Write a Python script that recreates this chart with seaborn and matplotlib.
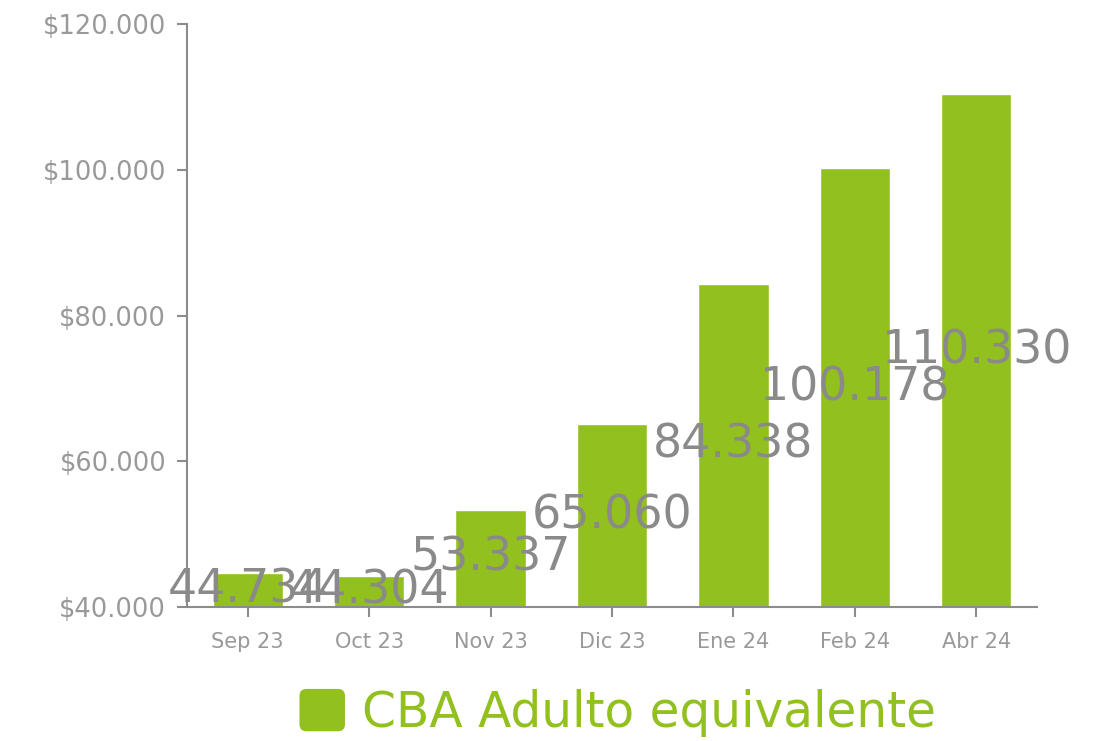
import matplotlib
matplotlib.use("Agg")
import matplotlib.pyplot as plt
import seaborn as sns
import pandas as pd
from matplotlib.patches import FancyBboxPatch, Patch
from matplotlib.legend_handler import HandlerPatch
from matplotlib.ticker import FuncFormatter

months = ["Sep 23", "Oct 23", "Nov 23", "Dic 23", "Ene 24", "Feb 24", "Abr 24"]
values = [44734, 44304, 53337, 65060, 84338, 100178, 110330]
series_name = "CBA Adulto equivalente"
y_ticks = [40000, 60000, 80000, 100000, 120000]

green = "#92C01F"
gray = "#8a8a8a"
axis_gray = "#8c8c8c"

sns.set_theme(style="white")
plt.rcParams["font.family"] = ["DejaVu Sans"]

df = pd.DataFrame({"mes": months, "valor": values})

fig = plt.figure(figsize=(10.97, 7.41), dpi=100)
ax = fig.add_axes([0.1705, 0.1808, 0.7748, 0.7868])

sns.barplot(data=df, x="mes", y="valor", color=green, saturation=1,
            width=0.58, ax=ax, zorder=2)

ymin, ymax = 40000, 120000
ax.set_ylim(ymin, ymax)
ax.set_xlim(-0.5, len(months) - 0.5)
ax.set_yticks(y_ticks)
ax.yaxis.set_major_formatter(FuncFormatter(lambda v, p: "$" + f"{int(v):,}".replace(",", ".")))
ax.set_xlabel("")
ax.set_ylabel("")

for s in ["top", "right"]:
    ax.spines[s].set_visible(False)
for s in ["left", "bottom"]:
    ax.spines[s].set_color(axis_gray)
    ax.spines[s].set_linewidth(1.5)

ax.tick_params(axis="y", which="major", left=True, length=7, width=1.5,
               color=axis_gray, labelsize=18.5, labelcolor="#999999", pad=8)
ax.tick_params(axis="x", which="major", bottom=True, length=7, width=1.5,
               color=axis_gray, labelsize=15, labelcolor="#999999", pad=11)

for i, v in enumerate(values):
    ax.text(i, (v + ymin) / 2, f"{v:,}".replace(",", "."), ha="center", va="center",
            fontsize=33, color=gray, zorder=5, clip_on=False)


class RoundHandler(HandlerPatch):
    def create_artists(self, legend, orig_handle, xdescent, ydescent, width, height, fontsize, trans):
        p = FancyBboxPatch((-xdescent + 2, -ydescent + 1), width - 4, height - 2,
                           boxstyle="round,pad=0,rounding_size=5",
                           facecolor=green, edgecolor="none", transform=trans)
        return [p]


handle = Patch(facecolor=green, label=series_name)
leg = fig.legend(handles=[handle], loc="center", bbox_to_anchor=(0.562, 0.039),
                 frameon=False, fontsize=35, handlelength=1.05, handleheight=1.05,
                 handletextpad=0.3, handler_map={Patch: RoundHandler()})
for t in leg.get_texts():
    t.set_color(green)

fig.savefig("out.png", dpi=100)
